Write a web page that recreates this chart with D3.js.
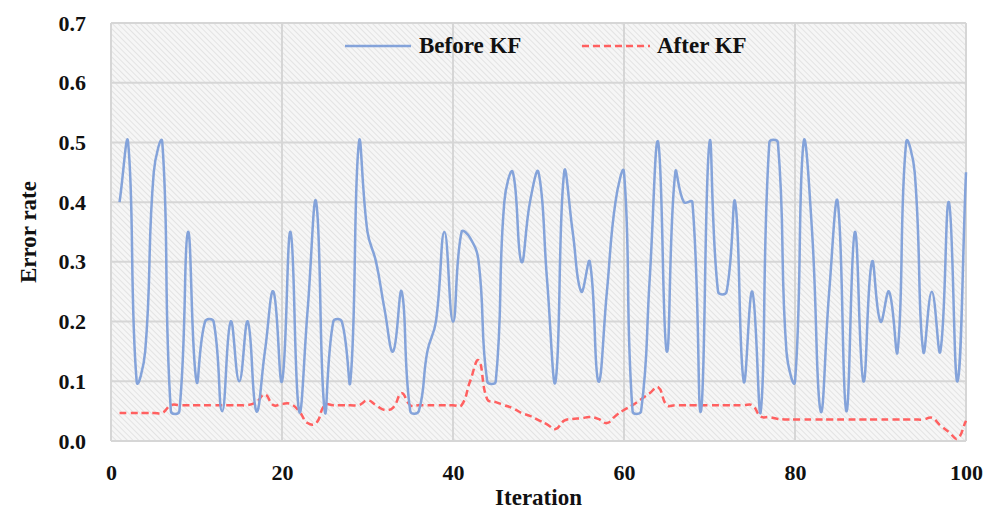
<!DOCTYPE html>
<html>
<head>
<meta charset="utf-8">
<script src="https://cdn.jsdelivr.net/npm/d3@7"></script>
<style>
  body { margin: 0; background: #fff; }
  text { font-family: "Liberation Serif", "Times New Roman", serif; font-weight: bold; fill: #111; }
</style>
</head>
<body>
<svg id="chart" width="991" height="513"></svg>
<script>
// values, iteration 1..100
const beforeKF = [
  0.40, 0.50, 0.10, 0.15, 0.45, 0.50, 0.05, 0.05, 0.35, 0.10,
  0.20, 0.20, 0.05, 0.20, 0.10, 0.20, 0.05, 0.15, 0.25, 0.10,
  0.35, 0.05, 0.22, 0.40, 0.05, 0.20, 0.20, 0.10, 0.50, 0.35,
  0.30, 0.22, 0.15, 0.25, 0.05, 0.05, 0.15, 0.20, 0.35, 0.20,
  0.35, 0.34, 0.30, 0.10, 0.10, 0.40, 0.45, 0.30, 0.40, 0.45,
  0.27, 0.10, 0.45, 0.35, 0.25, 0.30, 0.10, 0.25, 0.40, 0.45,
  0.05, 0.05, 0.27, 0.50, 0.15, 0.45, 0.40, 0.40, 0.05, 0.50,
  0.25, 0.25, 0.40, 0.10, 0.25, 0.05, 0.50, 0.50, 0.15, 0.10,
  0.50, 0.35, 0.05, 0.25, 0.40, 0.05, 0.35, 0.10, 0.30, 0.20,
  0.25, 0.15, 0.50, 0.45, 0.15, 0.25, 0.15, 0.40, 0.10, 0.45
];
const afterKF = [
  0.047, 0.047, 0.047, 0.047, 0.047, 0.047, 0.06, 0.06, 0.06, 0.06,
  0.06, 0.06, 0.06, 0.06, 0.06, 0.06, 0.065, 0.078, 0.06, 0.062,
  0.062, 0.05, 0.03, 0.03, 0.06, 0.06, 0.06, 0.06, 0.06, 0.068,
  0.06, 0.052, 0.056, 0.08, 0.06, 0.06, 0.06, 0.06, 0.06, 0.06,
  0.06, 0.10, 0.135, 0.07, 0.065, 0.06, 0.055, 0.047, 0.042, 0.035,
  0.028, 0.02, 0.034, 0.037, 0.038, 0.04, 0.037, 0.03, 0.042, 0.052,
  0.06, 0.07, 0.08, 0.09, 0.06, 0.06, 0.06, 0.06, 0.06, 0.06,
  0.06, 0.06, 0.06, 0.06, 0.06, 0.041, 0.04, 0.037, 0.036, 0.036,
  0.036, 0.036, 0.036, 0.036, 0.036, 0.036, 0.036, 0.036, 0.036, 0.036,
  0.036, 0.036, 0.036, 0.036, 0.036, 0.039, 0.026, 0.015, 0.004, 0.034
];
const xTicks = [0, 20, 40, 60, 80, 100];
const yTicks = [0, 0.1, 0.2, 0.3, 0.4, 0.5, 0.6, 0.7];
const seriesNames = ["Before KF", "After KF"];

const margin = { top: 23, right: 25, bottom: 72, left: 111 };
const W = 991, H = 513;
const width = W - margin.left - margin.right;
const height = H - margin.top - margin.bottom;

// spreadsheet-style smoothing: bezier handles scaled by neighbouring segment lengths
function SmoothCurve(context) { this._context = context; }
SmoothCurve.prototype = {
  areaStart() { this._line = 0; },
  areaEnd() { this._line = NaN; },
  lineStart() { this._pts = []; },
  point(x, y) { this._pts.push([+x, +y]); },
  lineEnd() {
    const p = this._pts, c = this._context, n = p.length;
    if (!n) return;
    const dist = (a, b) => Math.hypot(b[0] - a[0], b[1] - a[1]);
    const f = 0.45;
    c.moveTo(p[0][0], p[0][1]);
    for (let i = 0; i < n - 1; i++) {
      const p0 = p[i - 1] || p[i], p1 = p[i], p2 = p[i + 1], p3 = p[i + 2] || p[i + 1];
      const d01 = dist(p0, p1), d12 = dist(p1, p2), d23 = dist(p2, p3);
      const k1 = d12 / (d01 + d12 || 1) * f;
      const k2 = d12 / (d12 + d23 || 1) * f;
      c.bezierCurveTo(
        p1[0] + (p2[0] - p0[0]) * k1, p1[1] + (p2[1] - p0[1]) * k1,
        p2[0] - (p3[0] - p1[0]) * k2, p2[1] - (p3[1] - p1[1]) * k2,
        p2[0], p2[1]);
    }
  }
};
const smoothCurve = ctx => new SmoothCurve(ctx);

const svg = d3.select("#chart");

// diagonal hatch fill of the plot area
const defs = svg.append("defs");
const pat = defs.append("pattern")
  .attr("id", "hatch")
  .attr("patternUnits", "userSpaceOnUse")
  .attr("width", 4).attr("height", 4)
  .attr("patternTransform", "rotate(-45)");
pat.append("rect").attr("width", 4).attr("height", 4).attr("fill", "#f6f6f6");
pat.append("line").attr("x1", 0).attr("y1", 0).attr("x2", 0).attr("y2", 4)
  .attr("stroke", "#d6d6d6").attr("stroke-width", 1.2);

const g = svg.append("g").attr("transform", `translate(${margin.left},${margin.top})`);

const x = d3.scaleLinear().domain([0, 100]).range([0, width]);
const y = d3.scaleLinear().domain([0, 0.7]).range([height, 0]);

g.append("rect").attr("width", width).attr("height", height).attr("fill", "url(#hatch)");

// grid
g.append("g").selectAll("line.h").data(yTicks).enter().append("line")
  .attr("x1", 0).attr("x2", width)
  .attr("y1", d => y(d)).attr("y2", d => y(d))
  .attr("stroke", "#d6d6d6").attr("stroke-width", 2);
g.append("g").selectAll("line.v").data(xTicks).enter().append("line")
  .attr("y1", 0).attr("y2", height)
  .attr("x1", d => x(d)).attr("x2", d => x(d))
  .attr("stroke", "#d6d6d6").attr("stroke-width", 2);

// axes (labels only)
const yAxis = g.append("g")
  .call(d3.axisLeft(y).tickValues(yTicks).tickFormat(d3.format(".1f")).tickSize(0).tickPadding(25));
yAxis.select(".domain").remove();
yAxis.selectAll("text").style("font-size", "22px").style("font-family", null);

const xAxis = g.append("g").attr("transform", `translate(0,${height})`)
  .call(d3.axisBottom(x).tickValues(xTicks).tickFormat(d3.format("d")).tickSize(0));
xAxis.select(".domain").remove();
xAxis.selectAll("text").attr("y", 39).attr("dy", 0).style("font-size", "22px").style("font-family", null);

// series
const iters = beforeKF.map((_, i) => i + 1);
const line = d3.line()
  .x((d, i) => x(iters[i]))
  .y(d => y(d))
  .curve(smoothCurve);

g.append("path").datum(afterKF)
  .attr("d", line).attr("fill", "none")
  .attr("stroke", "#ff6060").attr("stroke-width", 2.5)
  .attr("stroke-dasharray", "7,4");

g.append("path").datum(beforeKF)
  .attr("d", line).attr("fill", "none")
  .attr("stroke", "#84a3da").attr("stroke-width", 2.5);

// legend
const leg = svg.append("g");
leg.append("line").attr("x1", 345).attr("x2", 411).attr("y1", 46).attr("y2", 46)
  .attr("stroke", "#84a3da").attr("stroke-width", 2.5);
leg.append("text").attr("x", 419).attr("y", 53).style("font-size", "23px").text(seriesNames[0]);
leg.append("line").attr("x1", 582).attr("x2", 650).attr("y1", 46).attr("y2", 46)
  .attr("stroke", "#ff6060").attr("stroke-width", 2.5).attr("stroke-dasharray", "7,4");
leg.append("text").attr("x", 657).attr("y", 53).style("font-size", "23px").text(seriesNames[1]);

// axis titles
svg.append("text").attr("x", margin.left + width / 2).attr("y", 505)
  .attr("text-anchor", "middle").style("font-size", "23px").text("Iteration");
svg.append("text").attr("transform", `translate(36,${margin.top + height / 2}) rotate(-90)`)
  .attr("text-anchor", "middle").style("font-size", "23px").text("Error rate");
</script>
</body>
</html>
